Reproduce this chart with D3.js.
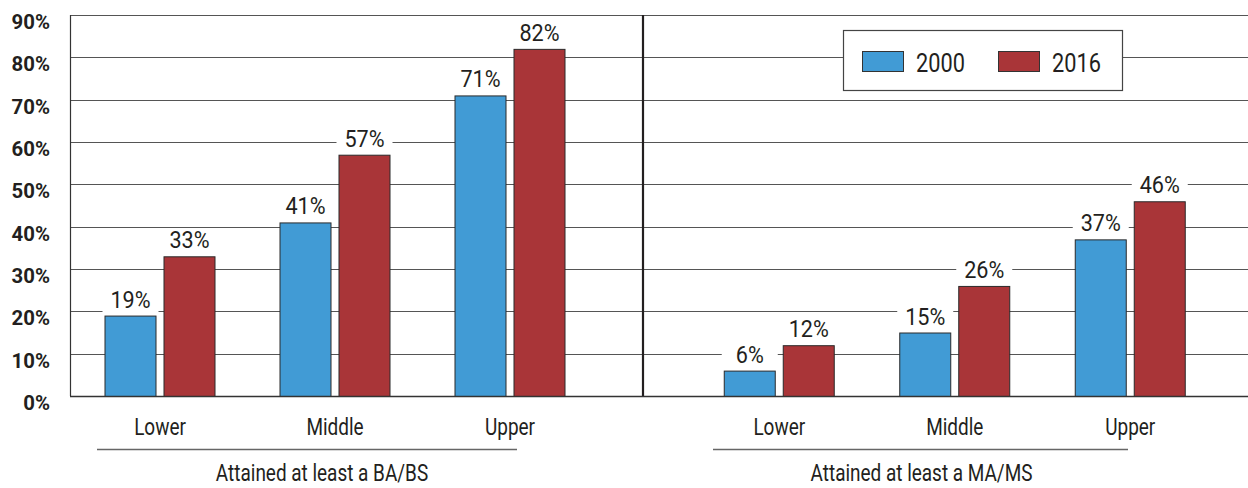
<!DOCTYPE html>
<html>
<head>
<meta charset="utf-8">
<script src="https://cdn.jsdelivr.net/npm/d3@7/dist/d3.min.js"></script>
<style>
  html, body { margin: 0; padding: 0; background: #fff; }
  svg { display: block; }
  text { font-family: Roboto, "Noto Sans", sans-serif; fill: #231f20; }
</style>
</head>
<body>
<svg id="chart" width="1248" height="488"></svg>
<script>
// ---- data ----
const categories = ["Lower", "Middle", "Upper"];
const years = ["2000", "2016"];
const panels = ["Attained at least a BA/BS", "Attained at least a MA/MS"];
const baValues2000 = [19, 41, 71];
const baValues2016 = [33, 57, 82];
const maValues2000 = [6, 15, 37];
const maValues2016 = [12, 26, 46];
const yTicks = [0, 10, 20, 30, 40, 50, 60, 70, 80, 90];
const colors = { "2000": "#419bd5", "2016": "#a93538" };

const panelData = [
  { title: panels[0], values: { "2000": baValues2000, "2016": baValues2016 } },
  { title: panels[1], values: { "2000": maValues2000, "2016": maValues2016 } }
];

(function () {
const svg = d3.select("#chart");
const mLeft = 70, divider = 643, mRight = 1248, mTop = 15, mBottom = 396;

// condensed text: normal font squeezed horizontally
function label(sel, x, yy, str, size, sx, anchor, weight) {
  return sel.append("text")
    .attr("transform", `translate(${x},${yy}) scale(${sx},1)`)
    .attr("text-anchor", anchor || "middle")
    .attr("font-size", size)
    .attr("font-weight", weight || "normal")
    .text(str);
}

const y = d3.scaleLinear().domain([0, 90]).range([mBottom, mTop]);

const panelRanges = [[72.5, 597.5], [691.5, 1218]];
const x1 = d3.scaleBand().domain(years).range([-55.5, 55.5]).paddingInner(0.1186);

// gridlines
const grid = svg.append("g");
yTicks.filter(t => t > 0).forEach(t => {
  grid.append("line")
    .attr("x1", mLeft).attr("x2", mRight)
    .attr("y1", Math.round(y(t)) + 0.5).attr("y2", Math.round(y(t)) + 0.5)
    .attr("stroke", "#555").attr("stroke-width", 1.1);
});

// y axis labels
const yl = svg.append("g");
yTicks.forEach(t => label(yl, 50, y(t) + 14, t + "%", 21, 0.97, "end", "bold"));

// legend (covers gridlines)
const lg = svg.append("g");
lg.append("rect").attr("x", 843.5).attr("y", 30.5).attr("width", 279).attr("height", 60)
  .attr("fill", "#fff").attr("stroke", "#444").attr("stroke-width", 1.2);
const legendItems = [{ k: "2000", x: 862 }, { k: "2016", x: 998 }];
legendItems.forEach(it => {
  lg.append("rect").attr("x", it.x + 0.5).attr("y", 51.5).attr("width", 41).attr("height", 20)
    .attr("fill", colors[it.k]).attr("stroke", "#333").attr("stroke-width", 1);
  label(lg, it.x + 54, 72, it.k, 25, 0.87, "start");
});

panelData.forEach((p, pi) => {
  const x0 = d3.scaleBand().domain(categories).range(panelRanges[pi]).padding(0);
  const g = svg.append("g");
  const bars = [];
  categories.forEach((c, ci) => {
    years.forEach(yr => {
      const v = p.values[yr][ci];
      bars.push({
        c, yr, v,
        x: x0(c) + x0.bandwidth() / 2 + x1(yr),
        w: x1.bandwidth()
      });
    });
  });
  // label backgrounds
  g.selectAll("rect.bg").data(bars).join("rect").attr("class", "bg")
    .attr("x", d => d.x - 2).attr("width", d => d.w + 4)
    .attr("y", d => y(d.v) - 28).attr("height", 27)
    .attr("fill", "#fff");
  // bars
  g.selectAll("rect.bar").data(bars).join("rect").attr("class", "bar")
    .attr("x", d => d.x + 0.5).attr("width", d => d.w - 1)
    .attr("y", d => y(d.v) + 0.5).attr("height", d => mBottom - y(d.v))
    .attr("fill", d => colors[d.yr]).attr("stroke", "#2a2a2a").attr("stroke-width", 1);
  // value labels
  bars.forEach(d => label(g, d.x + d.w / 2, y(d.v) - 8, d.v + "%", 24, 0.9));
  // category labels
  categories.forEach(c => label(g, x0(c) + x0.bandwidth() / 2, 435, c, 24, 0.79));
  // underline and panel title
  const lineExt = pi === 0 ? [97, 517] : [713, 1128];
  g.append("line").attr("x1", lineExt[0]).attr("x2", lineExt[1])
    .attr("y1", 449.5).attr("y2", 449.5).attr("stroke", "#666").attr("stroke-width", 1.5);
  label(g, (lineExt[0] + lineExt[1]) / 2 + (pi === 0 ? 15 : 1), 481, p.title, 24, 0.79);
});

// axes frame
svg.append("line").attr("x1", mLeft + 0.5).attr("x2", mLeft + 0.5).attr("y1", mTop).attr("y2", mBottom)
  .attr("stroke", "#333").attr("stroke-width", 1.2);
svg.append("line").attr("x1", divider).attr("x2", divider).attr("y1", mTop).attr("y2", mBottom + 1)
  .attr("stroke", "#231f20").attr("stroke-width", 2.2);
svg.append("line").attr("x1", mLeft).attr("x2", mRight).attr("y1", mBottom + 0.5).attr("y2", mBottom + 0.5)
  .attr("stroke", "#333").attr("stroke-width", 1.3);
})();
</script>
</body>
</html>
